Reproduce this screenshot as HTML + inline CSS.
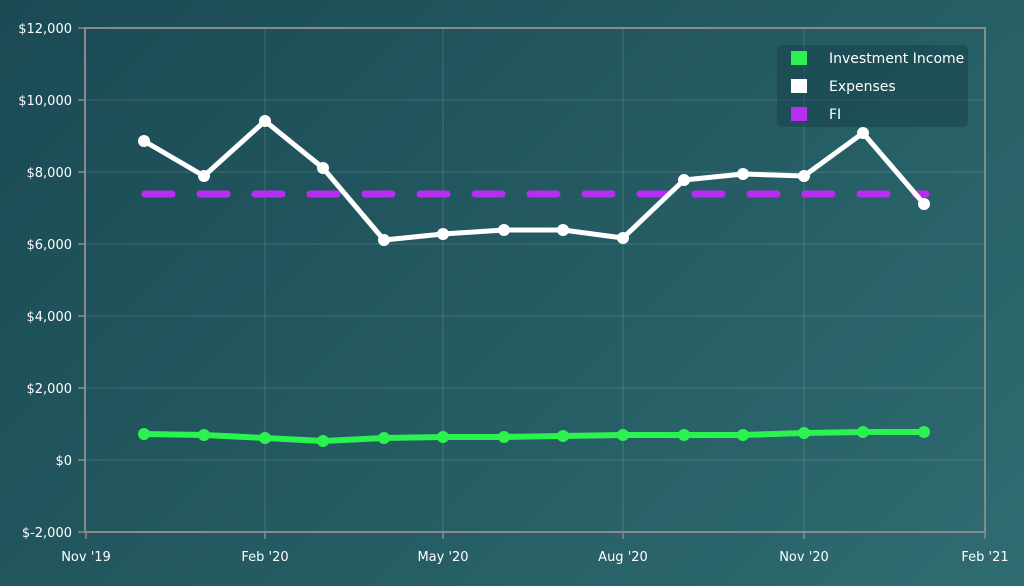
<!DOCTYPE html>
<html><head><style>
html,body{margin:0;padding:0;width:1024px;height:586px;overflow:hidden}
body{background:linear-gradient(135deg,#1b4a55 0%,#245a62 50%,#2f6c72 100%);font-family:"DejaVu Sans","Liberation Sans",sans-serif}
</style></head><body>
<svg width="1024" height="586" xmlns="http://www.w3.org/2000/svg" style="position:absolute;left:0;top:0">
<g stroke="#ffffff" stroke-opacity="0.15" stroke-width="1">
<line x1="86" y1="100" x2="985" y2="100"/><line x1="86" y1="172" x2="985" y2="172"/>
<line x1="86" y1="244" x2="985" y2="244"/><line x1="86" y1="316" x2="985" y2="316"/>
<line x1="86" y1="388" x2="985" y2="388"/><line x1="86" y1="460" x2="985" y2="460"/>
<line x1="265" y1="28" x2="265" y2="532"/><line x1="443" y1="28" x2="443" y2="532"/>
<line x1="623" y1="28" x2="623" y2="532"/><line x1="804" y1="28" x2="804" y2="532"/>
</g>
<rect x="85" y="28" width="900" height="504" fill="none" stroke="#8a8a8a" stroke-width="2"/>
<g stroke="#8a8a8a" stroke-width="1.5">
<line x1="78" y1="28" x2="85" y2="28"/><line x1="78" y1="100" x2="85" y2="100"/><line x1="78" y1="172" x2="85" y2="172"/><line x1="78" y1="244" x2="85" y2="244"/><line x1="78" y1="316" x2="85" y2="316"/><line x1="78" y1="388" x2="85" y2="388"/><line x1="78" y1="460" x2="85" y2="460"/><line x1="78" y1="532" x2="85" y2="532"/>
<line x1="86" y1="532" x2="86" y2="539"/><line x1="265" y1="532" x2="265" y2="539"/><line x1="443" y1="532" x2="443" y2="539"/><line x1="623" y1="532" x2="623" y2="539"/><line x1="804" y1="532" x2="804" y2="539"/><line x1="985" y1="532" x2="985" y2="539"/>
</g>
<g fill="#ffffff" font-size="13" text-anchor="end">
<text x="72" y="33">$12,000</text><text x="72" y="105">$10,000</text><text x="72" y="177">$8,000</text><text x="72" y="249">$6,000</text><text x="72" y="321">$4,000</text><text x="72" y="393">$2,000</text><text x="72" y="465">$0</text><text x="72" y="537">$-2,000</text>
</g>
<g fill="#ffffff" font-size="13" text-anchor="middle">
<text x="86" y="561">Nov '19</text><text x="265" y="561">Feb '20</text><text x="443" y="561">May '20</text><text x="623" y="561">Aug '20</text><text x="804" y="561">Nov '20</text><text x="985" y="561">Feb '21</text>
</g>
<line x1="145" y1="194" x2="926" y2="194" stroke="#b62ef2" stroke-width="7" stroke-dasharray="27 28" stroke-linecap="round"/>
<polyline fill="none" stroke="#ffffff" stroke-width="5" stroke-linejoin="round" points="144,141 204,176 265,121 323,168 384,240 443,234 504,230 563,230 623,238 684,180 743,174 804,176 863,133 924,204"/>
<g fill="#ffffff">
<circle cx="144" cy="141" r="6"/><circle cx="204" cy="176" r="6"/><circle cx="265" cy="121" r="6"/><circle cx="323" cy="168" r="6"/><circle cx="384" cy="240" r="6"/><circle cx="443" cy="234" r="6"/><circle cx="504" cy="230" r="6"/><circle cx="563" cy="230" r="6"/><circle cx="623" cy="238" r="6"/><circle cx="684" cy="180" r="6"/><circle cx="743" cy="174" r="6"/><circle cx="804" cy="176" r="6"/><circle cx="863" cy="133" r="6"/><circle cx="924" cy="204" r="6"/>
</g>
<polyline fill="none" stroke="#2cf24f" stroke-width="6" stroke-linejoin="round" points="144,434 204,435 265,438 323,441 384,438 443,437 504,437 563,436 623,435 684,435 743,435 804,433 863,432 924,432"/>
<g fill="#2cf24f">
<circle cx="144" cy="434" r="6"/><circle cx="204" cy="435" r="6"/><circle cx="265" cy="438" r="6"/><circle cx="323" cy="441" r="6"/><circle cx="384" cy="438" r="6"/><circle cx="443" cy="437" r="6"/><circle cx="504" cy="437" r="6"/><circle cx="563" cy="436" r="6"/><circle cx="623" cy="435" r="6"/><circle cx="684" cy="435" r="6"/><circle cx="743" cy="435" r="6"/><circle cx="804" cy="433" r="6"/><circle cx="863" cy="432" r="6"/><circle cx="924" cy="432" r="6"/>
</g>
<rect x="777" y="45" width="191" height="82" rx="5" fill="#153c45" fill-opacity="0.45"/>
<rect x="791" y="51" width="16" height="14" fill="#2cf24f"/>
<rect x="791" y="79" width="16" height="14" fill="#ffffff"/>
<rect x="791" y="107" width="16" height="14" fill="#b62ef2"/>
<g fill="#ffffff" font-size="14">
<text x="829" y="63">Investment Income</text><text x="829" y="91">Expenses</text><text x="829" y="119">FI</text>
</g>
</svg>
</body></html>
